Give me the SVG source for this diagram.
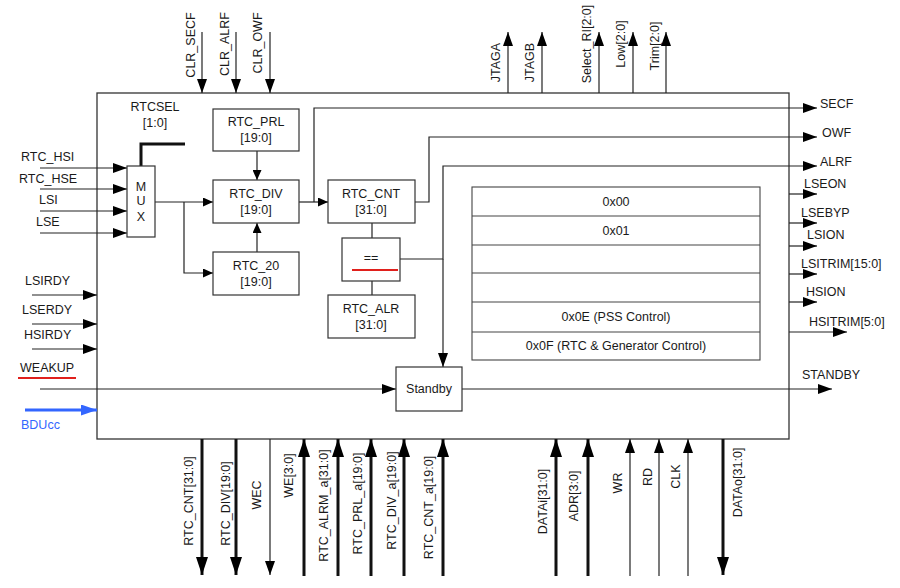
<svg xmlns="http://www.w3.org/2000/svg" width="900" height="588" viewBox="0 0 900 588">
<defs>
<style>
text{font-family:"Liberation Sans",Arial,sans-serif;font-size:12.5px;fill:#1a1a1a}
.c{text-anchor:middle}
.box{fill:#fff;stroke:#333;stroke-width:1.2}
.ln{fill:none;stroke:#222;stroke-width:1.2}
.th{fill:none;stroke:#111;stroke-width:3}
.bl{fill:none;stroke:#3366ff;stroke-width:3}
.tab{fill:none;stroke:#444;stroke-width:1.1}
</style>
<marker id="ah" markerUnits="userSpaceOnUse" markerWidth="14" markerHeight="10" refX="14" refY="5" orient="auto"><path d="M0,0L14,5L0,10z" fill="#000"/></marker>
<marker id="aT" markerUnits="userSpaceOnUse" markerWidth="18" markerHeight="12" refX="18" refY="6" orient="auto"><path d="M0,0L18,6L0,12z" fill="#000"/></marker>
<marker id="as" markerUnits="userSpaceOnUse" markerWidth="10" markerHeight="9" refX="10" refY="4.5" orient="auto"><path d="M0,0L10,4.5L0,9z" fill="#000"/></marker>
<marker id="ab" markerUnits="userSpaceOnUse" markerWidth="16" markerHeight="11" refX="16" refY="5.5" orient="auto"><path d="M0,0L16,5.5L0,11z" fill="#3366ff"/></marker>
</defs>
<rect width="900" height="588" fill="#fff"/>

<g id="rtc_block"><rect x="97" y="93" width="692" height="346" fill="none" stroke="#333" stroke-width="1.3"/></g>

<g id="connectors">
<line class="ln" x1="202" y1="32" x2="202" y2="93" marker-end="url(#ah)"/>
<line class="ln" x1="236" y1="32" x2="236" y2="93" marker-end="url(#ah)"/>
<line class="ln" x1="270" y1="32" x2="270" y2="93" marker-end="url(#ah)"/>
<line class="ln" x1="508" y1="93" x2="508" y2="32" marker-end="url(#ah)"/>
<line class="ln" x1="542" y1="93" x2="542" y2="32" marker-end="url(#ah)"/>
<line class="ln" x1="599" y1="93" x2="599" y2="32" marker-end="url(#ah)"/>
<line class="ln" x1="633" y1="93" x2="633" y2="32" marker-end="url(#ah)"/>
<line class="ln" x1="666" y1="93" x2="666" y2="32" marker-end="url(#ah)"/>

<line class="ln" x1="40" y1="168" x2="127" y2="168" marker-end="url(#ah)"/>
<line class="ln" x1="40" y1="189" x2="127" y2="189" marker-end="url(#ah)"/>
<line class="ln" x1="40" y1="211" x2="127" y2="211" marker-end="url(#ah)"/>
<line class="ln" x1="40" y1="233" x2="127" y2="233" marker-end="url(#ah)"/>
<line class="ln" x1="32" y1="295" x2="97" y2="295" marker-end="url(#ah)"/>
<line class="ln" x1="32" y1="324" x2="97" y2="324" marker-end="url(#ah)"/>
<line class="ln" x1="32" y1="349" x2="97" y2="349" marker-end="url(#ah)"/>
<line class="bl" x1="25" y1="410" x2="97" y2="410" marker-end="url(#ab)"/>
<line class="ln" x1="40" y1="389" x2="396" y2="389" marker-end="url(#ah)"/>
<line class="ln" x1="462" y1="389" x2="832" y2="389" marker-end="url(#ah)"/>

<polyline class="th" points="141,166 141,144 185,144"/>
<line class="ln" x1="155" y1="202" x2="213" y2="202" marker-end="url(#as)"/>
<polyline class="ln" points="184,202 184,273 213,273" marker-end="url(#as)"/>
<line class="ln" x1="257" y1="151" x2="257" y2="180" marker-end="url(#as)"/>
<line class="ln" x1="257" y1="252" x2="257" y2="223" marker-end="url(#as)"/>
<line class="ln" x1="299" y1="202" x2="328" y2="202" marker-end="url(#as)"/>
<polyline class="ln" points="314,202 314,108 817,108" marker-end="url(#ah)"/>
<polyline class="ln" points="415,202 429,202 429,137 817,137" marker-end="url(#ah)"/>
<line class="ln" x1="372" y1="223" x2="372" y2="238"/>
<line class="ln" x1="372" y1="281" x2="372" y2="295"/>
<polyline class="ln" points="400,259 443,259 443,166 817,166" marker-end="url(#ah)"/>
<line class="ln" x1="443" y1="259" x2="443" y2="367" marker-end="url(#ah)"/>

<line class="ln" x1="789" y1="194" x2="817" y2="194" marker-end="url(#ah)"/>
<line class="ln" x1="789" y1="223" x2="817" y2="223" marker-end="url(#ah)"/>
<line class="ln" x1="789" y1="246" x2="817" y2="246" marker-end="url(#ah)"/>
<line class="ln" x1="789" y1="274" x2="817" y2="274" marker-end="url(#ah)"/>
<line class="ln" x1="789" y1="302" x2="817" y2="302" marker-end="url(#ah)"/>
<line class="ln" x1="789" y1="332" x2="847" y2="332" marker-end="url(#ah)"/>

<line class="th" x1="202" y1="439" x2="202" y2="575" marker-end="url(#aT)"/>
<line class="th" x1="236" y1="439" x2="236" y2="575" marker-end="url(#aT)"/>
<line class="ln" x1="270" y1="439" x2="270" y2="575" marker-end="url(#ah)"/>
<line class="th" x1="304" y1="576" x2="304" y2="439" marker-end="url(#aT)"/>
<line class="th" x1="338" y1="576" x2="338" y2="439" marker-end="url(#aT)"/>
<line class="th" x1="371" y1="576" x2="371" y2="439" marker-end="url(#aT)"/>
<line class="th" x1="404" y1="576" x2="404" y2="439" marker-end="url(#aT)"/>
<line class="th" x1="443" y1="576" x2="443" y2="439" marker-end="url(#aT)"/>
<line class="th" x1="556" y1="576" x2="556" y2="439" marker-end="url(#aT)"/>
<line class="th" x1="588" y1="576" x2="588" y2="439" marker-end="url(#aT)"/>
<line class="ln" x1="630" y1="576" x2="630" y2="439" marker-end="url(#ah)"/>
<line class="ln" x1="659" y1="576" x2="659" y2="439" marker-end="url(#ah)"/>
<line class="ln" x1="688" y1="576" x2="688" y2="439" marker-end="url(#ah)"/>
<line class="th" x1="723" y1="439" x2="723" y2="575" marker-end="url(#aT)"/>
</g>

<g id="mux"><rect class="box" x="127" y="166" width="28" height="71"/>
<text class="c" x="141" y="191">M</text><text class="c" x="141" y="205">U</text><text class="c" x="141" y="221">X</text></g>
<g id="rtcsel"><text class="c" x="155" y="111">RTCSEL</text><text class="c" x="155" y="127">[1:0]</text></g>
<g id="rtc_prl"><rect class="box" x="213" y="109" width="86" height="42"/><text class="c" x="256" y="126">RTC_PRL</text><text class="c" x="256" y="142">[19:0]</text></g>
<g id="rtc_div"><rect class="box" x="213" y="180" width="86" height="43"/><text class="c" x="256" y="198">RTC_DIV</text><text class="c" x="256" y="214">[19:0]</text></g>
<g id="rtc_20"><rect class="box" x="213" y="252" width="86" height="43"/><text class="c" x="256" y="270">RTC_20</text><text class="c" x="256" y="286">[19:0]</text></g>
<g id="rtc_cnt"><rect class="box" x="328" y="180" width="87" height="43"/><text class="c" x="371" y="198">RTC_CNT</text><text class="c" x="371" y="214">[31:0]</text></g>
<g id="cmp"><rect class="box" x="342" y="238" width="58" height="43"/><text class="c" x="371" y="262">==</text><line x1="352" y1="270" x2="398" y2="270" stroke="#e0201c" stroke-width="2"/></g>
<g id="rtc_alr"><rect class="box" x="328" y="295" width="87" height="43"/><text class="c" x="371" y="313">RTC_ALR</text><text class="c" x="371" y="329">[31:0]</text></g>
<g id="standby"><rect class="box" x="396" y="367" width="66" height="44"/><text class="c" x="429" y="393">Standby</text></g>
<g id="regs"><rect class="tab" x="472" y="187" width="288" height="173"/>
<path class="tab" d="M472,216H760M472,245H760M472,273H760M472,302H760M472,332H760"/>
<text class="c" x="616" y="205.5">0x00</text><text class="c" x="616" y="234.5">0x01</text>
<text class="c" x="616" y="320.5">0x0E (PSS Control)</text><text class="c" x="616" y="349.5">0x0F (RTC &amp; Generator Control)</text></g>

<g id="labels_top">
<text class="c" transform="translate(194.5,45) rotate(-90)">CLR_SECF</text>
<text class="c" transform="translate(228.5,44) rotate(-90)">CLR_ALRF</text>
<text class="c" transform="translate(261.5,43) rotate(-90)">CLR_OWF</text>
<text class="c" transform="translate(499.5,62.5) rotate(-90)">JTAGA</text>
<text class="c" transform="translate(533.5,62.5) rotate(-90)">JTAGB</text>
<text class="c" transform="translate(590.5,44) rotate(-90)">Select_RI[2:0]</text>
<text class="c" transform="translate(624.5,44) rotate(-90)">Low[2:0]</text>
<text class="c" transform="translate(658.5,46) rotate(-90)">Trim[2:0]</text>
</g>
<g id="labels_left">
<text x="21" y="161">RTC_HSI</text><text x="19" y="183">RTC_HSE</text><text x="39" y="204">LSI</text><text x="36" y="226">LSE</text>
<text x="25" y="285">LSIRDY</text><text x="22" y="314">LSERDY</text><text x="24" y="339">HSIRDY</text>
<text x="20" y="372">WEAKUP</text><line x1="18" y1="378" x2="76" y2="378" stroke="#e0201c" stroke-width="2"/>
<text x="21" y="429" style="fill:#3366ff">BDUcc</text>
</g>
<g id="labels_right">
<text x="820" y="108">SECF</text><text x="822" y="137">OWF</text><text x="820" y="166">ALRF</text>
<text x="804" y="187.5">LSEON</text><text x="801" y="216.5">LSEBYP</text><text x="807" y="238.5">LSION</text>
<text x="801" y="267.5">LSITRIM[15:0]</text><text x="806" y="295.5">HSION</text><text x="809" y="325.5">HSITRIM[5:0]</text>
<text x="802" y="378.5">STANDBY</text>
</g>
<g id="labels_bottom">
<text class="c" transform="translate(192.5,501) rotate(-90)">RTC_CNT[31:0]</text>
<text class="c" transform="translate(229.5,503.5) rotate(-90)">RTC_DIV[19:0]</text>
<text class="c" transform="translate(260.5,495) rotate(-90)">WEC</text>
<text class="c" transform="translate(292.5,475.5) rotate(-90)">WE[3:0]</text>
<text class="c" transform="translate(327.5,505.5) rotate(-90)">RTC_ALRM_a[31:0]</text>
<text class="c" transform="translate(361.5,503.5) rotate(-90)">RTC_PRL_a[19:0]</text>
<text class="c" transform="translate(395.5,500.5) rotate(-90)">RTC_DIV_a[19:0]</text>
<text class="c" transform="translate(432.5,507.5) rotate(-90)">RTC_CNT_a[19:0]</text>
<text class="c" transform="translate(546.5,501.5) rotate(-90)">DATAi[31:0]</text>
<text class="c" transform="translate(577.5,496) rotate(-90)">ADR[3:0]</text>
<text class="c" transform="translate(621.5,483) rotate(-90)">WR</text>
<text class="c" transform="translate(651.5,477) rotate(-90)">RD</text>
<text class="c" transform="translate(679.5,476.5) rotate(-90)">CLK</text>
<text class="c" transform="translate(741.5,482.5) rotate(-90)">DATAo[31:0]</text>
</g>
</svg>
